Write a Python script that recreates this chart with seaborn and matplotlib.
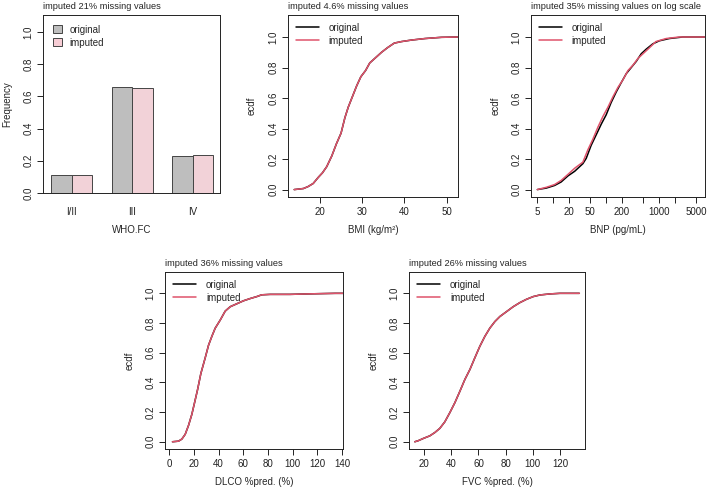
import numpy as np
import pandas as pd
import matplotlib
matplotlib.use("Agg")
import matplotlib.pyplot as plt
from matplotlib.lines import Line2D
from matplotlib.patches import Patch
import seaborn as sns

# ---- data ----
who_classes = ["I/II", "III", "IV"]
who_original = [0.113, 0.656, 0.230]
who_imputed = [0.113, 0.650, 0.238]

bmi_x = [13.9, 16.1, 17.2, 18.4, 19.6, 20.6, 21.6, 22.8, 23.9, 25.0, 25.9, 26.7, 27.7,
         28.7, 29.7, 30.8, 31.8, 33.0, 34.6, 36.0, 37.6, 39.3, 41.7, 44.9, 48.8, 52.6]
bmi_orig = [0.0, 0.007, 0.02, 0.04, 0.08, 0.11, 0.15, 0.22, 0.30, 0.37, 0.47, 0.54, 0.61,
            0.68, 0.74, 0.78, 0.83, 0.86, 0.90, 0.93, 0.96, 0.97, 0.98, 0.99, 0.998, 1.0]
bmi_imp = [0.0, 0.007, 0.02, 0.04, 0.08, 0.11, 0.15, 0.22, 0.30, 0.37, 0.47, 0.54, 0.61,
           0.68, 0.74, 0.78, 0.83, 0.86, 0.90, 0.93, 0.96, 0.97, 0.98, 0.99, 0.998, 1.0]

bnp_x_orig = [5, 7.4, 10.6, 14.1, 19.0, 25.4, 36.3, 42, 52, 65, 81, 100, 124, 155, 192,
              240, 298, 370, 460, 570, 760, 1010, 1565, 2800, 7200]
bnp_orig = [0.0, 0.01, 0.027, 0.05, 0.09, 0.12, 0.17, 0.205, 0.29, 0.36, 0.43, 0.49, 0.57,
            0.64, 0.70, 0.76, 0.80, 0.84, 0.89, 0.92, 0.955, 0.975, 0.99, 1.0, 1.0]
bnp_x_imp = [5, 7.4, 10.6, 14.1, 19.0, 25.4, 36.3, 45, 56, 70, 87, 108, 135, 167, 208,
             258, 320, 400, 495, 660, 870, 1360, 2400, 7200]
bnp_imp = [0.0, 0.015, 0.033, 0.06, 0.10, 0.14, 0.18, 0.26, 0.33, 0.41, 0.48, 0.54, 0.61,
           0.67, 0.72, 0.78, 0.815, 0.86, 0.89, 0.93, 0.97, 0.99, 1.0, 1.0]

dlco_x = [2.7, 7.6, 10.3, 13.0, 15.7, 18.4, 20.5, 23.0, 25.7, 29.2, 31.9, 34.6, 37.3, 41.4,
          45.4, 49.5, 54.9, 60.3, 65.7, 71.0, 75.0, 81.9, 98.0, 111.6, 134.6, 141.0]
dlco_orig = [0.0, 0.004, 0.018, 0.05, 0.11, 0.185, 0.26, 0.35, 0.46, 0.565, 0.65, 0.71,
             0.765, 0.82, 0.88, 0.91, 0.93, 0.95, 0.965, 0.978, 0.99, 0.993, 0.993, 0.996,
             1.0, 1.0]
dlco_imp = [0.0, 0.004, 0.018, 0.05, 0.11, 0.185, 0.26, 0.35, 0.46, 0.565, 0.65, 0.71,
            0.765, 0.82, 0.88, 0.91, 0.93, 0.95, 0.965, 0.978, 0.99, 0.993, 0.993, 0.996,
            1.0, 1.0]

fvc_x = [13.1, 15.6, 19.3, 24.2, 27.9, 31.5, 35.2, 38.9, 42.6, 46.3, 50.0, 53.7, 57.3,
         61.0, 64.7, 68.4, 72.1, 75.8, 80.7, 85.6, 90.5, 95.4, 100.3, 105.3, 112.6, 120.0, 134.3]
fvc_orig = [0.0, 0.007, 0.022, 0.04, 0.0625, 0.09, 0.134, 0.196, 0.263, 0.34, 0.42, 0.487,
            0.565, 0.643, 0.71, 0.766, 0.81, 0.844, 0.877, 0.91, 0.9375, 0.96, 0.978,
            0.989, 0.996, 1.0, 1.0]
fvc_imp = [0.0, 0.007, 0.022, 0.04, 0.0625, 0.09, 0.134, 0.196, 0.263, 0.34, 0.42, 0.487,
           0.565, 0.643, 0.71, 0.766, 0.81, 0.844, 0.877, 0.91, 0.9375, 0.96, 0.978,
           0.989, 0.996, 1.0, 1.0]

# ---- style ----
sns.set_style("ticks")
plt.rcParams["font.family"] = ["Liberation Sans", "DejaVu Sans"]
FS = 7
GREY = "#BEBEBE"
PINK = "#F7CDD5"
RED = "#DF536B"


def r_style(ax, title):
    for s in ax.spines.values():
        s.set_visible(True)
        s.set_linewidth(0.7)
        s.set_color("#222222")
    ax.tick_params(length=4, width=0.7, color="#222222", labelsize=FS, pad=3,
                   labelcolor="#222222")
    ax.tick_params(axis="y", labelrotation=90)
    for lab in ax.get_yticklabels():
        lab.set_va("center")
    ax.set_title(title, loc="left", fontsize=FS - 0.3, pad=4)


def ecdf_panel(ax, xo, yo, xi, yi, xlabel, title):
    sns.lineplot(x=xo, y=yo, ax=ax, color="black", lw=1.1, sort=False, estimator=None)
    sns.lineplot(x=xi, y=yi, ax=ax, color=RED, lw=1.1, sort=False, estimator=None)
    ax.set_ylim(-0.048, 1.145)
    ax.set_yticks([0, 0.2, 0.4, 0.6, 0.8, 1.0])
    ax.set_yticklabels(["0.0", "0.2", "0.4", "0.6", "0.8", "1.0"])
    ax.set_xlabel(xlabel, fontsize=FS, labelpad=6)
    ax.set_ylabel("ecdf", fontsize=FS, labelpad=8)
    handles = [Line2D([], [], color="black", lw=1.1), Line2D([], [], color=RED, lw=1.1)]
    ax.legend(handles, ["original", "imputed"], loc="upper left", frameon=False,
              fontsize=FS, handlelength=2.4, handletextpad=1.0,
              labelspacing=0.3, borderaxespad=0.4)
    r_style(ax, title)


fig = plt.figure(figsize=(7.09, 4.96), dpi=100)

# panel 1: WHO functional class bars
ax1 = fig.add_axes([0.061, 0.611, 0.250, 0.359])
bars = pd.DataFrame({
    "class": who_classes * 2,
    "freq": who_original + who_imputed,
    "type": ["original"] * 3 + ["imputed"] * 3,
})
sns.barplot(data=bars, x="class", y="freq", hue="type", ax=ax1,
            palette={"original": GREY, "imputed": PINK}, width=0.672,
            edgecolor="#444444", linewidth=0.7, legend=False)
ax1.set_xlim(-0.47, 2.46)
ax1.set_ylim(0, 1.107)
ax1.set_yticks([0, 0.2, 0.4, 0.6, 0.8, 1.0])
ax1.set_yticklabels(["0.0", "0.2", "0.4", "0.6", "0.8", "1.0"])
ax1.set_xlabel("WHO.FC", fontsize=FS, labelpad=6)
ax1.set_ylabel("Frequency", fontsize=FS, labelpad=8)
r_style(ax1, "imputed 21% missing values")
ax1.tick_params(axis="x", length=0, pad=10)
ax1.legend([Patch(facecolor=GREY, edgecolor="#444444", lw=0.7),
            Patch(facecolor=PINK, edgecolor="#444444", lw=0.7)],
           ["original", "imputed"], loc="upper left", frameon=False,
           fontsize=FS, handlelength=0.9, handleheight=0.9, handletextpad=0.8,
           labelspacing=0.3, borderaxespad=0.6)

# panel 2: BMI
ax2 = fig.add_axes([0.406, 0.603, 0.240, 0.367])
ecdf_panel(ax2, bmi_x, bmi_orig, bmi_x, bmi_imp, "BMI (kg/m²)", "imputed 4.6% missing values")
ax2.set_xlim(12.4, 52.7)
ax2.set_xticks([20, 30, 40, 50])

# panel 3: BNP on log scale
ax3 = fig.add_axes([0.749, 0.603, 0.245, 0.367])
ecdf_panel(ax3, bnp_x_orig, bnp_orig, bnp_x_imp, bnp_imp, "BNP (pg/mL)",
           "imputed 35% missing values on log scale")
ax3.set_xscale("log")
ax3.set_xlim(3.8, 7300)
bnp_ticks = [5, 10, 20, 50, 100, 200, 500, 1000, 2000, 5000]
bnp_labels = ["5", "", "20", "50", "", "200", "", "1000", "", "5000"]
ax3.set_xticks(bnp_ticks)
ax3.set_xticklabels(bnp_labels)
ax3.xaxis.set_minor_locator(matplotlib.ticker.NullLocator())

# panel 4: DLCO
ax4 = fig.add_axes([0.233, 0.095, 0.251, 0.357])
ecdf_panel(ax4, dlco_x, dlco_orig, dlco_x, dlco_imp, "DLCO %pred. (%)",
           "imputed 36% missing values")
ax4.set_xlim(-3.2, 141)
ax4.set_xticks([0, 20, 40, 60, 80, 100, 120, 140])

# panel 5: FVC
ax5 = fig.add_axes([0.577, 0.095, 0.248, 0.357])
ecdf_panel(ax5, fvc_x, fvc_orig, fvc_x, fvc_imp, "FVC %pred. (%)",
           "imputed 26% missing values")
ax5.set_xlim(8.9, 138.4)
ax5.set_xticks([20, 40, 60, 80, 100, 120])

fig.savefig("out.png", dpi=100)
